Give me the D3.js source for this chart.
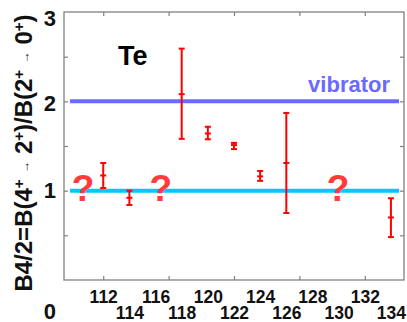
<!DOCTYPE html>
<html>
<head>
<meta charset="utf-8">
<script src="https://cdn.jsdelivr.net/npm/d3@7"></script>
<style>
  body { margin: 0; background: #fff; }
  text { font-family: "Liberation Sans", Arial, sans-serif; }
</style>
</head>
<body>
<div id="chart"></div>
<script>
// Te isotopes, B4/2 ratio with error bars
const masses = [112, 114, 118, 120, 122, 124, 126, 134];
const ratio = [1.17, 0.92, 2.08, 1.64, 1.51, 1.16, 1.31, 0.70];
const errLow = [1.03, 0.84, 1.58, 1.575, 1.465, 1.11, 0.75, 0.48];
const errHigh = [1.31, 1.00, 2.59, 1.715, 1.535, 1.22, 1.87, 0.915];

// unknown nuclei marked with "?"
const unknownMasses = [110.45, 116.4, 129.95];
const unknownLevel = 0.88;

// reference lines: vibrator limit and unity
const refValues = [2, 1];
const refLabels = ['vibrator', ''];
const refSpan = [109.46, 134.62];

const xTickMarks = [112, 117, 122, 127, 132];
const xTickLabels = [112, 114, 116, 118, 120, 122, 124, 126, 128, 130, 132, 134];
const yTickMarks = [0.5, 1, 1.5, 2, 2.5];
const yTickLabels = [0, 1, 2, 3];

const W = 407, H = 322;
const margin = { top: 12, right: 3, bottom: 42, left: 64 };
const refColors = ['#6a6aff', '#00c8ff'];

const svg = d3.select('#chart').append('svg')
  .attr('width', W)
  .attr('height', H);

const x = d3.scaleLinear().domain([109, 135]).range([margin.left, W - margin.right]);
const y = d3.scaleLinear().domain([0, 3]).range([H - margin.bottom, margin.top]);

// frame
svg.append('rect')
  .attr('x', x(109)).attr('y', y(3))
  .attr('width', x(135) - x(109)).attr('height', y(0) - y(3))
  .attr('fill', 'none').attr('stroke', '#808080').attr('stroke-width', 1.3);

// inward tick marks on all four sides
const tickStyle = g => {
  g.select('.domain').remove();
  g.selectAll('.tick line').attr('stroke', '#808080').attr('stroke-width', 1.2);
  g.selectAll('.tick text').remove();
};
svg.append('g').attr('transform', `translate(0,${y(0)})`)
  .call(d3.axisBottom(x).tickValues(xTickMarks).tickSize(-4)).call(tickStyle);
svg.append('g').attr('transform', `translate(0,${y(3)})`)
  .call(d3.axisTop(x).tickValues(xTickMarks).tickSize(-4)).call(tickStyle);
svg.append('g').attr('transform', `translate(${x(109)},0)`)
  .call(d3.axisLeft(y).tickValues(yTickMarks).tickSize(-4)).call(tickStyle);
svg.append('g').attr('transform', `translate(${x(135)},0)`)
  .call(d3.axisRight(y).tickValues(yTickMarks).tickSize(-4)).call(tickStyle);

// x labels, staggered on two rows
const xAxis = svg.append('g').attr('transform', `translate(0,${y(0)})`)
  .call(d3.axisBottom(x).tickValues(xTickLabels).tickSize(0));
xAxis.select('.domain').remove();
xAxis.selectAll('.tick text')
  .attr('y', (d, i) => i % 2 === 0 ? 23 : 39)
  .attr('dy', 0)
  .attr('fill', '#111')
  .attr('font-size', 17.5)
  .attr('font-weight', 'bold');

// y labels (0 sits below the frame in the original)
const yAxis = svg.append('g').attr('transform', `translate(${x(109) - 8},0)`)
  .call(d3.axisLeft(y).tickValues(yTickLabels).tickFormat(d3.format('d')).tickSize(0).tickPadding(0));
yAxis.select('.domain').remove();
yAxis.selectAll('.tick text')
  .attr('dy', d => d === 0 ? 38 : d === 3 ? 13 : d === 2 ? 9 : 7)
  .attr('fill', '#111')
  .attr('font-size', 22)
  .attr('font-weight', 'bold');

// y title
const title = svg.append('text')
  .attr('transform', `translate(32,${(y(0) + y(3)) / 2 + 7}) rotate(-90)`)
  .attr('text-anchor', 'middle')
  .attr('font-size', 24)
  .attr('font-weight', 'bold')
  .attr('fill', '#111');
const parts = [
  ['B4/2=B(4', 0], ['+', 1], [' ', 0], ['\u2192', 2], [' 2', 0], ['+', 1], [')/B(2', 0],
  ['+', 1], [' ', 0], ['\u2192', 2], [' 0', 0], ['+', 1], [')', 0]
];
parts.forEach(([t, kind]) => {
  const s = title.append('tspan').text(t);
  if (kind === 1) s.attr('font-size', 15).attr('baseline-shift', '55%');
  if (kind === 2) s.attr('font-size', 12).attr('font-weight', 'normal').attr('baseline-shift', '25%');
});

// reference lines
svg.append('g').selectAll('line')
  .data(refValues)
  .join('line')
  .attr('x1', x(refSpan[0])).attr('x2', x(refSpan[1]))
  .attr('y1', d => y(d)).attr('y2', d => y(d))
  .attr('stroke', (d, i) => refColors[i])
  .attr('stroke-width', 4);

svg.append('g').selectAll('text')
  .data(refValues)
  .join('text')
  .attr('x', x(refSpan[1]) - 9)
  .attr('y', d => y(d) - 9)
  .attr('text-anchor', 'end')
  .attr('font-size', 22)
  .attr('font-weight', 'bold')
  .attr('fill', (d, i) => refColors[i])
  .text((d, i) => refLabels[i]);

// element label
svg.append('text')
  .attr('x', 118).attr('y', 65)
  .attr('font-size', 27)
  .attr('font-weight', 'bold')
  .attr('fill', '#000')
  .text('Te');

// question marks
svg.append('g').selectAll('text')
  .data(unknownMasses)
  .join('text')
  .attr('x', d => x(d))
  .attr('y', y(unknownLevel))
  .attr('text-anchor', 'middle')
  .attr('font-size', 37)
  .attr('font-weight', 'bold')
  .attr('fill', '#ff3b3b')
  .text('?');

// error bars
const bars = svg.append('g')
  .attr('stroke', '#ff0000')
  .attr('stroke-width', 2)
  .selectAll('g')
  .data(masses.map((m, i) => ({ m, v: ratio[i], lo: errLow[i], hi: errHigh[i] })))
  .join('g');
bars.append('line')
  .attr('x1', d => x(d.m)).attr('x2', d => x(d.m))
  .attr('y1', d => y(d.lo)).attr('y2', d => y(d.hi));
['lo', 'hi', 'v'].forEach(k => {
  bars.append('line')
    .attr('x1', d => x(d.m) - 3).attr('x2', d => x(d.m) + 3)
    .attr('y1', d => y(d[k])).attr('y2', d => y(d[k]));
});
</script>
</body>
</html>
